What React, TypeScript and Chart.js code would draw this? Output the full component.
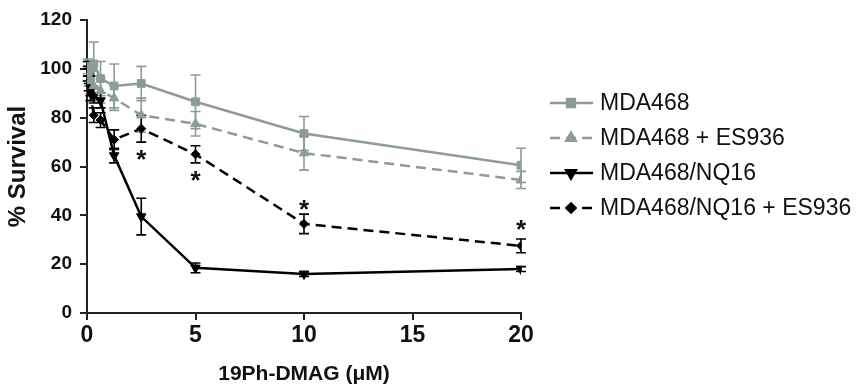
import React, { useEffect, useRef } from 'react';
import { Chart, registerables } from 'chart.js';
import { drawPoint } from 'chart.js/helpers';

Chart.register(...registerables);

// ---- data ----
const doses = [0.039, 0.078, 0.156, 0.3125, 0.625, 1.25, 2.5, 5, 10, 20];
const mda468 = [101, 99, 100, 102, 96, 93, 94, 86.5, 73.5, 60.5];
const mda468Err = [3, 4, 3, 9, 7, 9, 7, 11, 7, 7];
const mda468Es = [99, 97, 95, 93, 91, 88, 81, 77.5, 65.5, 54.5];
const mda468EsErr = [4, 4, 5, 6, 5, 5, 7, 5, 7, 3.5];
const nq16 = [100, 97, 93, 89, 87, 64.5, 39.5, 18.5, 16, 18];
const nq16Err = [3, 3, 4, 3, 3, 3, 7.5, 2, 1, 1];
const nq16Es = [98, 94, 90, 81, 79, 71, 75.5, 65, 36.5, 27.5];
const nq16EsErr = [3, 3, 3, 3, 3, 4, 5.5, 3.5, 4, 2.8];
const starDoses = [2.5, 5, 10, 20];
const starValues = [65.5, 57, 45, 37];
const seriesLabels = ['MDA468', 'MDA468 + ES936', 'MDA468/NQ16', 'MDA468/NQ16 + ES936'];
const xTitle = '19Ph-DMAG (\u03bcM)';
const yTitle = '% Survival';

const GRAY = '#8d9b99';
const BLACK = '#000000';
const FONT = "'Liberation Sans', Arial, sans-serif";

const toPts = (vals: number[]) => vals.map((v, i) => ({ x: doses[i], y: v }));

const errorBars = {
  id: 'errorBars',
  beforeDatasetsDraw(chart: any) {
    const { ctx } = chart;
    const ys = chart.scales.y;
    chart.data.datasets.forEach((ds: any, i: number) => {
      const meta = chart.getDatasetMeta(i);
      ctx.save();
      ctx.strokeStyle = ds.borderColor;
      ctx.lineWidth = 1.6;
      ctx.setLineDash([]);
      meta.data.forEach((pt: any, j: number) => {
        const v = ds.data[j].y;
        const e = ds.errors[j];
        const t = ys.getPixelForValue(v + e);
        const b = ys.getPixelForValue(v - e);
        const x = pt.x;
        ctx.beginPath();
        ctx.moveTo(x, t); ctx.lineTo(x, b);
        ctx.moveTo(x - 5, t); ctx.lineTo(x + 5, t);
        ctx.moveTo(x - 5, b); ctx.lineTo(x + 5, b);
        ctx.stroke();
      });
      ctx.restore();
    });
  },
};

const stars = {
  id: 'stars',
  afterDatasetsDraw(chart: any) {
    const { ctx } = chart;
    const xs = chart.scales.x;
    const ys = chart.scales.y;
    ctx.save();
    ctx.fillStyle = '#111';
    ctx.font = `bold 26px ${FONT}`;
    ctx.textAlign = 'center';
    ctx.textBaseline = 'alphabetic';
    starDoses.forEach((d, i) => {
      const x = xs.getPixelForValue(d);
      const y = ys.getPixelForValue(starValues[i]);
      ctx.fillText('*', x, y + 15);
    });
    ctx.restore();
  },
};

const customLegend = {
  id: 'customLegend',
  afterDraw(chart: any) {
    const { ctx } = chart;
    const rows = [103, 138, 173, 208];
    ctx.save();
    chart.data.datasets.forEach((ds: any, i: number) => {
      const y = rows[i];
      ctx.strokeStyle = ds.borderColor;
      ctx.fillStyle = ds.borderColor;
      ctx.lineWidth = ds.borderWidth;
      ctx.setLineDash(ds.borderDash || []);
      ctx.beginPath();
      ctx.moveTo(550, y);
      ctx.lineTo(593, y);
      ctx.stroke();
      ctx.setLineDash([]);
      drawPoint(ctx, {
        pointStyle: ds.pointStyle,
        rotation: ds.pointRotation || 0,
        radius: ds.pointRadius,
        borderWidth: 1,
      } as any, 571, y);
      ctx.fillStyle = '#111';
      ctx.font = `23px ${FONT}`;
      ctx.textAlign = 'left';
      ctx.textBaseline = 'middle';
      ctx.fillText(seriesLabels[i], 600, y + 1);
    });
    ctx.restore();
  },
};

export default function App() {
  const ref = useRef<HTMLCanvasElement>(null);
  useEffect(() => {
    document.body.style.margin = '0';
    const mk = (label: string, vals: number[], errs: number[], color: string, dash: number[], style: string, radius: number, rot = 0) => ({
      label,
      data: toPts(vals),
      errors: errs,
      borderColor: color,
      backgroundColor: color,
      borderWidth: 2.5,
      borderDash: dash,
      pointStyle: style,
      pointRadius: radius,
      pointRotation: rot,
      pointBorderWidth: 1,
      pointBackgroundColor: color,
      pointBorderColor: color,
      tension: 0,
      showLine: true,
    });
    const chart = new Chart(ref.current!, {
      type: 'scatter',
      data: {
        datasets: [
          mk(seriesLabels[0], mda468, mda468Err, GRAY, [], 'rect', 5.5),
          mk(seriesLabels[1], mda468Es, mda468EsErr, GRAY, [10, 6], 'triangle', 5.5),
          mk(seriesLabels[2], nq16, nq16Err, BLACK, [], 'triangle', 5.5, 180),
          mk(seriesLabels[3], nq16Es, nq16EsErr, BLACK, [10, 6], 'rectRot', 4.5),
        ] as any,
      },
      options: {
        animation: false,
        responsive: false,
        devicePixelRatio: 1,
        layout: { padding: { left: 0, top: 20, right: 337, bottom: 0 } },
        plugins: { legend: { display: false }, tooltip: { enabled: false } },
        scales: {
          x: {
            type: 'linear',
            min: 0,
            max: 20,
            afterFit: (s: any) => { s.height = 72; },
            border: { color: '#222', width: 2 },
            grid: { drawOnChartArea: false, drawTicks: true, tickLength: 7, color: '#222', lineWidth: 2 },
            ticks: { stepSize: 5, color: '#111', padding: 2, font: { family: FONT, size: 23, weight: 'bold' } },
            title: { display: true, text: xTitle, color: '#111', padding: { top: 0, bottom: 0 }, font: { family: FONT, size: 21, weight: 'bold', lineHeight: 1 } },
          },
          y: {
            type: 'linear',
            min: 0,
            max: 120,
            afterFit: (s: any) => { s.width = 87; },
            border: { color: '#222', width: 2 },
            grid: { drawOnChartArea: false, drawTicks: true, tickLength: 7, color: '#222', lineWidth: 2 },
            ticks: { stepSize: 20, color: '#111', padding: 8, font: { family: FONT, size: 19, weight: 'bold' } },
            title: { display: true, text: yTitle, color: '#111', padding: { top: 6, bottom: 0 }, font: { family: FONT, size: 24, weight: 'bold', lineHeight: 1 } },
          },
        },
      } as any,
      plugins: [errorBars, stars, customLegend],
    });
    return () => chart.destroy();
  }, []);
  return <canvas ref={ref} width={858} height={385} style={{ display: 'block' }} />;
}
